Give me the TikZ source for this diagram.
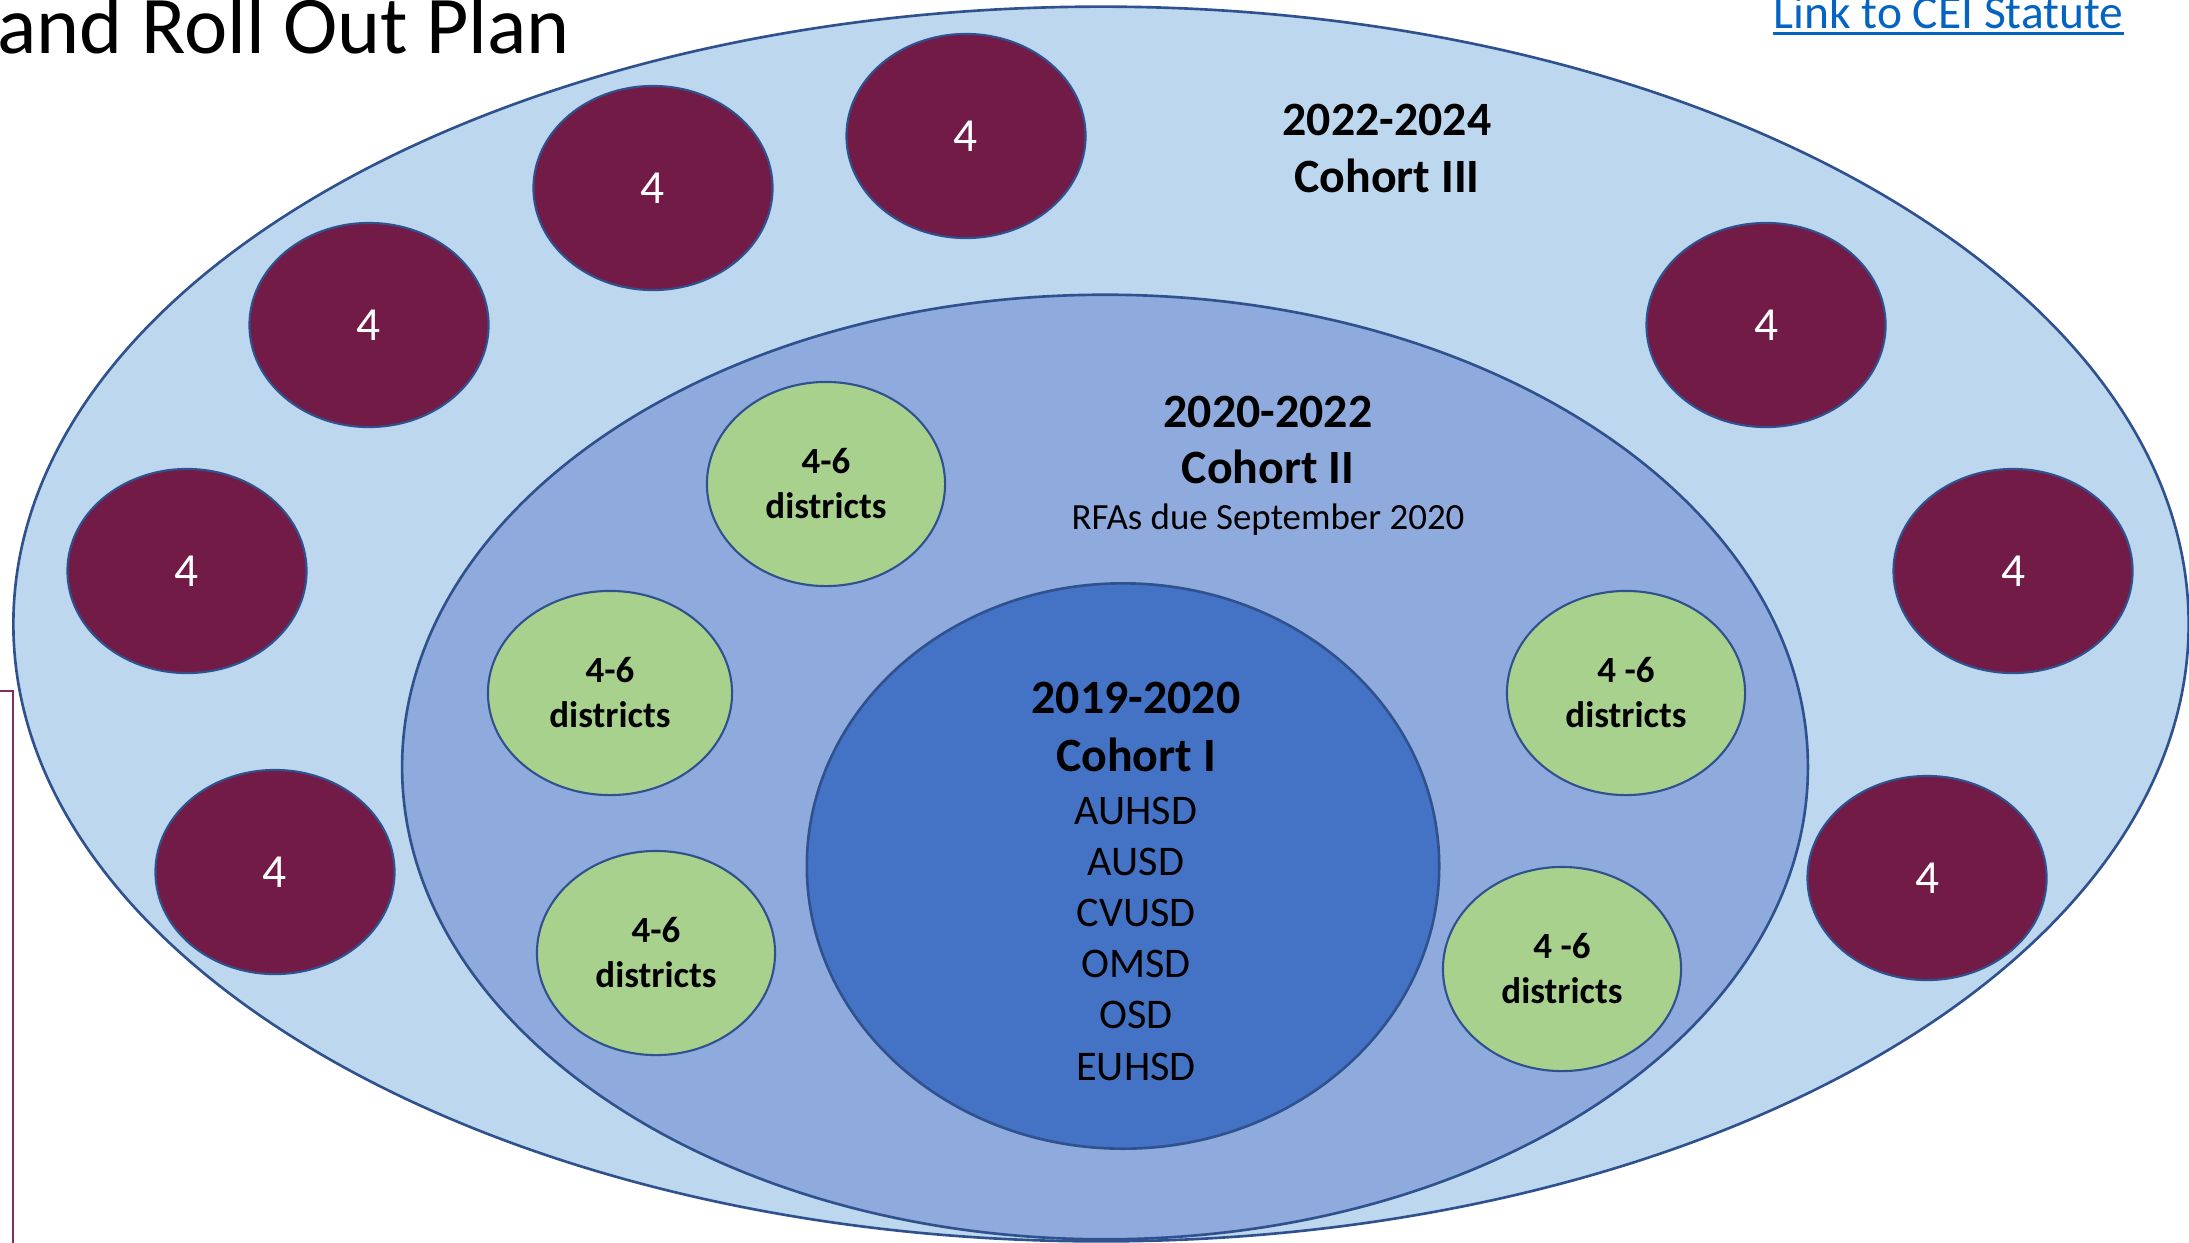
\documentclass[tikz,border=0pt]{standalone}
\usepackage{fontspec}
\setmainfont{Carlito}
\usepackage{tikz}
\usetikzlibrary{shapes.geometric}
\definecolor{cohortlight}{HTML}{BDD7EE}
\definecolor{cohortmid}{HTML}{8FAADC}
\definecolor{cohortdark}{HTML}{4472C4}
\definecolor{ringline}{HTML}{2F528F}
\definecolor{plum}{RGB}{115,27,71}
\definecolor{sage}{HTML}{A9D18E}
\definecolor{linkblue}{HTML}{0563C1}
\definecolor{framered}{RGB}{128,48,88}
\tikzstyle{ring} = [ellipse, draw=ringline, line width=0.75pt, inner sep=0pt]
\tikzstyle{newdist} = [ring, line width=0.6pt, fill=plum, minimum width=2.39cm, minimum height=2.04cm, text=white, font=\fontsize{13.5}{16}\selectfont]
\tikzstyle{pilot} = [ring, line width=0.6pt, fill=sage, minimum width=2.38cm, minimum height=2.04cm, align=center, font=\fontsize{10.5}{12.8}\selectfont\bfseries]
\tikzstyle{heading} = [anchor=base, inner sep=0pt, font=\fontsize{13.6}{16}\selectfont\bfseries]
\tikzstyle{plainline} = [anchor=base, inner sep=0pt]

\begin{document}
\begin{tikzpicture}[x=0.01cm, y=-0.01cm]
\useasboundingbox (0,0) rectangle (2189,1242);
\clip (0,0) rectangle (2189,1242);

% edge of the text box at the left
\draw[framered, line width=0.6pt] (-40,691) -- (13,691) -- (13,1300);

% cohort rings
\node[ring, fill=cohortlight, minimum width=21.74cm, minimum height=12.34cm] (ring3) at (1101,624) {};
\node[ring, fill=cohortmid, minimum width=14.05cm, minimum height=9.44cm] (ring2) at (1105,767) {};
\node[ring, fill=cohortdark, minimum width=6.32cm, minimum height=5.65cm] (ring1) at (1123,866) {};

% title and link
\node[anchor=base east, inner sep=0pt, font=\fontsize{23.3}{27}\selectfont] (title) at (571,53) {and Roll Out Plan};
\node[anchor=base west, inner sep=0pt, text=linkblue, font=\fontsize{13.5}{16}\selectfont] (link) at (1773,28) {Link to CEI Statute};
\draw[linkblue, line width=0.8pt] ([yshift=-1.5pt]link.base west) -- ([yshift=-1.5pt]link.base east);

% Cohort III
\node[heading] (c3year) at (1387,135) {2022-2024};
\node[heading] (c3name) at (1387,192) {Cohort III};
\foreach \x/\y [count=\i] in {966/136, 653/188, 369/325, 187/571, 275/872, 1766/325, 2013/571, 1927/878}
  \node[newdist] (new\i) at (\x,\y) {4};

% Cohort II
\node[heading] (c2year) at (1268,427) {2020-2022};
\node[heading] (c2name) at (1268,483) {Cohort II};
\node[plainline, font=\fontsize{10.5}{12.8}\selectfont] (rfa) at (1268,529) {RFAs due September 2020};
\node[pilot] (pilot1) at (826,484) {4-6\\districts};
\node[pilot, minimum width=2.44cm] (pilot2) at (610,693) {4-6\\districts};
\node[pilot] (pilot3) at (656,953) {4-6\\districts};
\node[pilot] (pilot4) at (1626,693) {4 -6\\districts};
\node[pilot] (pilot5) at (1562,969) {4 -6\\districts};

% Cohort I
\node[heading] (c1year) at (1136,713) {2019-2020};
\node[heading] (c1name) at (1136,771) {Cohort I};
\foreach \d [count=\i from 0] in {AUHSD,AUSD,CVUSD,OMSD,OSD,EUHSD}
  \node[plainline, font=\fontsize{12}{14}\selectfont] (dist\i) at (1136,{824+51.2*\i}) {\d};
\end{tikzpicture}
\end{document}
